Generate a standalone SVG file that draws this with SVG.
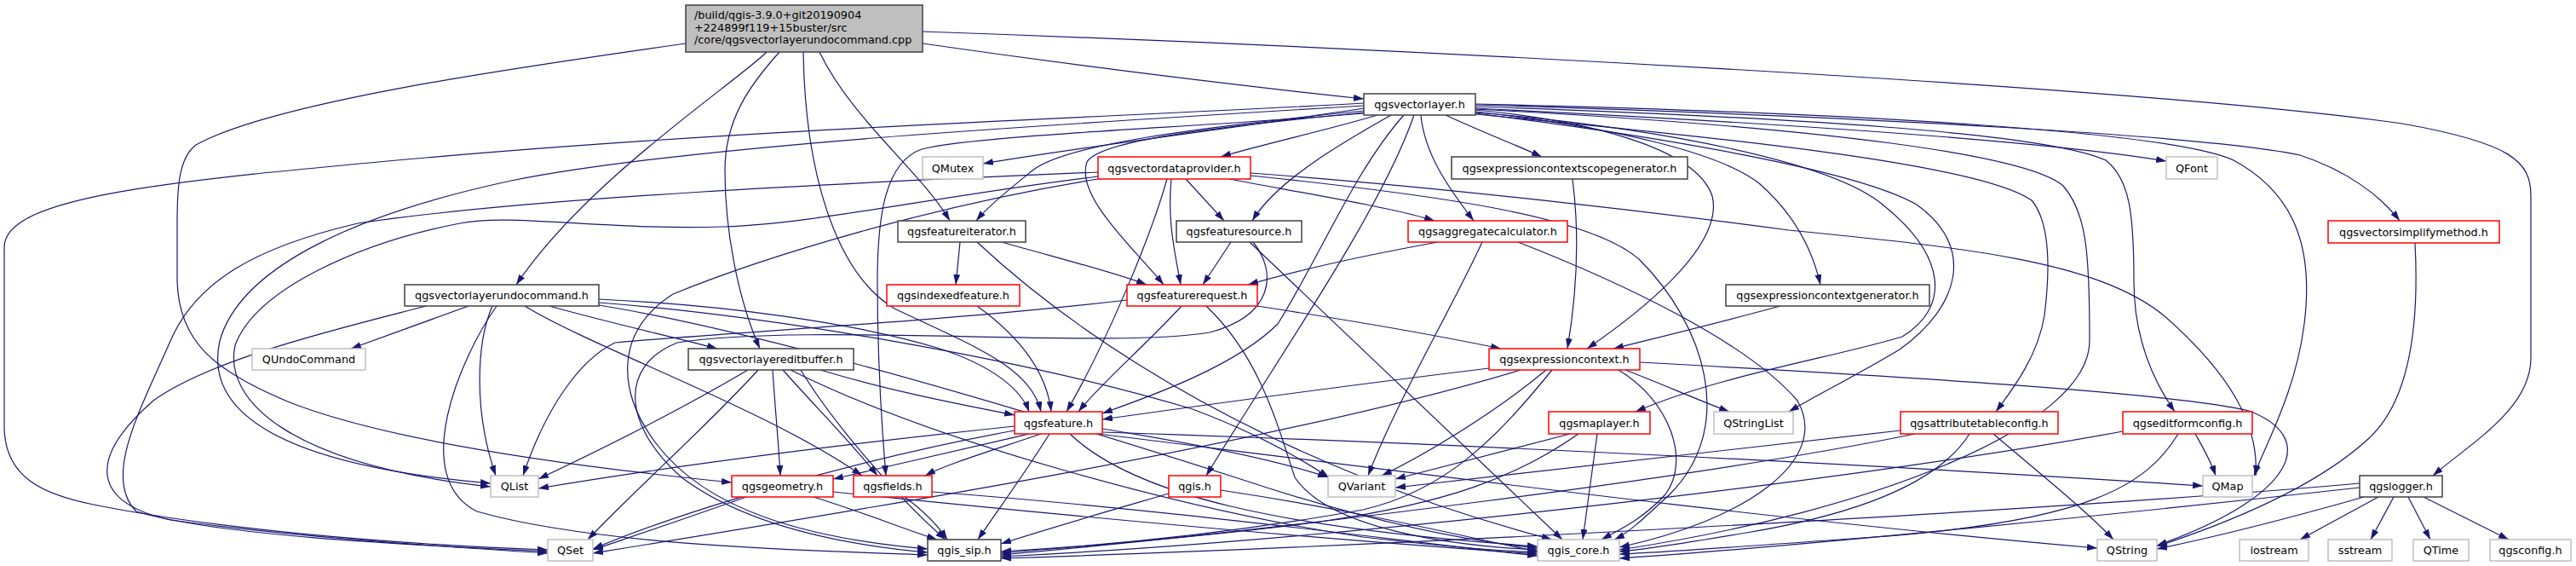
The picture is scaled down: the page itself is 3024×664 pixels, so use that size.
<svg xmlns="http://www.w3.org/2000/svg" width="3024" height="664" viewBox="0 0 3024 664">
<defs>
<marker id="a" markerWidth="13" markerHeight="9" refX="12" refY="4" orient="auto" markerUnits="userSpaceOnUse"><path d="M0,0 L12,4 L0,8 z" fill="#191970"/></marker>
<style>
rect{fill:#fff;stroke-width:1.5}
.k rect{stroke:#404040}
.r rect{stroke:#ff0000}
.g rect{stroke:#bfbfbf}
.root rect{fill:#bfbfbf;stroke:#404040}
text{font-family:"DejaVu Sans","Liberation Sans",sans-serif;font-size:12.8px;fill:#000;text-anchor:middle}
.root text{text-anchor:start}
#edges path{fill:none;stroke:#191970;stroke-width:1.2;marker-end:url(#a)}
</style>
</defs>
<rect x="0" y="0" width="3024" height="664" style="fill:#fff;stroke:none"/>
<g id="edges">
<path d="M900,61 C860,100 690,210 606,334"/>
<path d="M805,51 C600,80 320,120 230,170 C210,185 208,220 208,260 L208,330 C210,400 250,435 340,472 C450,515 650,545 859,566"/>
<path d="M915,61 C880,100 851,140 851,200 C851,270 866,350 892,409"/>
<path d="M943,61 C945,200 980,320 1050,362 C1140,405 1210,430 1222,483"/>
<path d="M962,61 C1000,140 1080,200 1115,259"/>
<path d="M1083,51 C1250,75 1450,100 1601,116"/>
<path d="M1083,37 C1600,55 2500,100 2820,145 C2950,168 2971,190 2971,230 L2971,420 C2971,480 2900,520 2856,558"/>
<path d="M1601,121 C1300,138 900,150 500,185 C200,212 5,230 5,290 L5,500 C5,560 50,580 110,592 C250,620 450,638 643,645"/>
<path d="M1601,124 C1200,148 800,172 600,212 C400,255 280,320 258,400 C240,480 320,545 576,567"/>
<path d="M1601,127 C1450,150 1250,175 1154,192"/>
<path d="M1601,130 C1400,150 1250,170 1212,200 C1185,222 1160,242 1146,259"/>
<path d="M1601,132 C1420,150 1290,165 1276,190 C1262,230 1330,290 1366,334"/>
<path d="M1601,133 C1400,150 1150,158 1082,175 C1040,190 1030,250 1030,330 C1030,420 1035,500 1040,558"/>
<path d="M1617,135 C1560,152 1480,170 1433,184"/>
<path d="M1633,135 C1580,165 1500,210 1470,259"/>
<path d="M1648,135 C1590,200 1550,300 1500,380 C1450,430 1350,465 1294,485"/>
<path d="M1660,135 C1620,250 1500,420 1416,558"/>
<path d="M1668,135 C1672,180 1700,220 1730,259"/>
<path d="M1697,135 C1740,155 1780,170 1810,184"/>
<path d="M1732,129 C1850,140 1990,170 2010,230 C2025,290 1920,370 1863,409"/>
<path d="M1732,131 C1900,150 2020,180 2065,215 C2105,250 2127,290 2137,334"/>
<path d="M1732,132 C1950,150 2150,190 2210,240 C2285,300 2290,360 2233,395 C2150,420 2020,440 1920,483"/>
<path d="M1732,133 C1950,160 2180,200 2250,240 C2320,290 2300,360 2230,410 C2180,440 2130,465 2100,483"/>
<path d="M1732,134 C2000,160 2320,190 2385,235 C2410,265 2405,330 2400,370 C2392,420 2360,460 2343,483"/>
<path d="M1732,125 C2100,138 2400,155 2472,188 C2500,210 2505,250 2505,330 C2505,400 2530,450 2553,483"/>
<path d="M1732,127 C2100,145 2400,165 2543,189"/>
<path d="M1732,123 C2200,137 2600,160 2700,182 C2755,200 2795,230 2817,259"/>
<path d="M1732,122 C2200,133 2550,155 2622,188 C2700,230 2715,300 2705,380 C2695,460 2660,520 2646,558"/>
<path d="M1732,128 C2150,150 2380,182 2422,218 C2450,250 2453,300 2453,400 C2453,500 2200,600 1901,645"/>
<path d="M1289,202 C1000,214 620,232 420,262 C300,290 230,330 200,400 C165,480 120,560 160,600 C260,630 500,640 643,647"/>
<path d="M1289,207 C1100,230 960,262 850,266 C700,270 600,250 540,262 C420,285 300,340 276,405 C262,470 340,545 576,571"/>
<path d="M1289,210 C1100,240 900,300 790,345 C720,390 725,460 770,520 C830,600 950,632 1089,644"/>
<path d="M1370,210 C1350,280 1300,400 1252,483"/>
<path d="M1375,210 C1370,260 1380,300 1386,334"/>
<path d="M1392,210 L1437,259"/>
<path d="M1443,210 C1550,230 1640,245 1684,259"/>
<path d="M1468,203 C1700,220 1950,250 2100,270 C2300,290 2460,305 2540,370 C2620,440 2652,500 2648,558"/>
<path d="M1468,206 C1700,230 1870,255 1925,305 C2000,380 2040,500 1960,580 C1930,608 1912,625 1895,633"/>
<path d="M1127,284 L1122,334"/>
<path d="M1176,284 C1250,305 1310,320 1346,334"/>
<path d="M1147,284 C1250,380 1400,480 1600,560 C1700,600 1780,622 1822,633"/>
<path d="M1147,359 C1190,390 1228,430 1234,483"/>
<path d="M1387,359 C1345,405 1292,450 1266,483"/>
<path d="M1476,359 C1580,375 1680,392 1762,409"/>
<path d="M1416,359 C1480,420 1500,500 1520,560 C1560,620 1700,640 1805,645"/>
<path d="M1323,352 C1100,378 850,390 722,402 C680,422 640,480 614,558"/>
<path d="M1445,284 L1412,334"/>
<path d="M1467,284 L1834,633"/>
<path d="M1471,284 C1500,320 1495,370 1420,390 C1300,410 950,378 795,402 C725,430 732,500 800,560 C880,620 1000,640 1089,648"/>
<path d="M1688,284 C1600,300 1520,318 1465,334"/>
<path d="M1740,284 C1700,370 1640,470 1606,558"/>
<path d="M1782,284 C1900,330 2050,400 2110,470 C2150,540 2050,610 1901,642"/>
<path d="M1846,210 C1855,280 1850,350 1840,409"/>
<path d="M2090,359 C2020,378 1950,395 1894,409"/>
<path d="M1748,432 C1600,450 1450,470 1294,492"/>
<path d="M1785,434 C1500,520 1000,600 696,649"/>
<path d="M1815,434 C1760,480 1680,530 1622,558"/>
<path d="M1822,434 C1760,510 1700,575 1600,598 C1450,625 1300,640 1175,647"/>
<path d="M1908,434 C1950,450 1990,468 2030,483"/>
<path d="M1900,434 C1960,470 1985,540 1955,580 C1930,608 1900,622 1880,633"/>
<path d="M1925,425 C2200,440 2550,460 2640,482 C2720,512 2700,580 2532,640"/>
<path d="M1843,509 C1760,530 1690,548 1638,562"/>
<path d="M1853,509 C1780,560 1700,590 1550,612 C1400,632 1250,642 1175,649"/>
<path d="M1875,509 L1858,633"/>
<path d="M2231,505 C2000,530 1800,555 1638,572"/>
<path d="M2248,509 C2000,560 1500,622 1175,651"/>
<path d="M2312,509 C2280,560 2200,600 2050,625 C1980,637 1930,645 1901,647"/>
<path d="M2340,509 C2400,560 2450,600 2481,633"/>
<path d="M2577,509 C2586,525 2595,540 2601,558"/>
<path d="M2492,506 C2200,560 1600,632 1175,653"/>
<path d="M2557,509 C2520,570 2450,612 2200,630 C2050,641 1950,648 1901,650"/>
<path d="M2835,285 C2840,380 2830,470 2780,515 C2720,570 2620,612 2532,641"/>
<path d="M2770,567 C2400,600 1600,642 1175,655"/>
<path d="M2770,572 C2500,602 2100,642 1901,655"/>
<path d="M2775,583 C2680,610 2600,630 2532,644"/>
<path d="M2792,583 L2700,633"/>
<path d="M2810,583 L2783,633"/>
<path d="M2827,583 L2853,633"/>
<path d="M2845,583 L2945,633"/>
<path d="M550,359 L412,409"/>
<path d="M500,359 C400,385 250,420 180,470 C100,540 110,590 200,610 C350,630 500,640 643,649"/>
<path d="M578,359 C560,400 555,480 582,558"/>
<path d="M583,359 C540,420 480,560 560,600 C700,640 950,646 1089,651"/>
<path d="M616,359 C700,410 900,480 1012,558"/>
<path d="M645,359 C720,380 790,395 842,409"/>
<path d="M703,351 C850,358 1000,378 1100,408 C1170,430 1200,460 1208,483"/>
<path d="M703,355 C900,370 1200,420 1400,480 C1480,510 1530,540 1560,560"/>
<path d="M703,358 C900,390 1200,480 1450,560 C1600,610 1720,635 1805,643"/>
<path d="M963,434 C1050,460 1130,475 1191,487"/>
<path d="M878,434 C800,480 700,530 632,562"/>
<path d="M890,434 C830,500 750,570 690,633"/>
<path d="M907,434 C910,480 914,520 916,558"/>
<path d="M919,434 C960,480 1000,520 1030,558"/>
<path d="M928,434 C1100,520 1400,600 1600,630 C1700,642 1760,646 1805,648"/>
<path d="M940,434 C980,500 1060,590 1110,633"/>
<path d="M1191,500 C1000,520 800,545 632,573"/>
<path d="M1191,505 C1000,540 800,600 696,644"/>
<path d="M1208,509 C1120,530 1030,550 978,562"/>
<path d="M1222,509 C1160,530 1110,545 1086,558"/>
<path d="M1232,509 C1200,560 1170,600 1148,633"/>
<path d="M1256,509 C1330,580 1500,620 1805,641"/>
<path d="M1294,503 C1400,520 1500,540 1559,560"/>
<path d="M1294,507 C1700,520 2200,545 2586,570"/>
<path d="M1290,509 C1700,560 2100,612 2462,643"/>
<path d="M876,583 C800,610 740,630 696,645"/>
<path d="M955,583 C1010,600 1060,620 1100,633"/>
<path d="M978,577 C1300,610 1600,636 1805,650"/>
<path d="M1062,583 C1085,600 1100,615 1112,633"/>
<path d="M1094,577 C1400,600 1650,636 1805,652"/>
<path d="M1372,579 C1300,600 1230,620 1175,638"/>
<path d="M1433,575 C1600,600 1720,630 1805,647"/>
</g>
<g id="n-root" class="root"><rect x="805" y="6" width="278" height="55"/><text x="815" y="22">/build/qgis-3.9.0+git20190904</text><text x="815" y="36.5">+224899f119+15buster/src</text><text x="815" y="51">/core/qgsvectorlayerundocommand.cpp</text></g>
<g id="n-qgsvectorlayer" class="k"><rect x="1601" y="110" width="131" height="25"/><text x="1666.5" y="127">qgsvectorlayer.h</text></g>
<g id="n-QMutex" class="g"><rect x="1083" y="184" width="71" height="26"/><text x="1118.5" y="201.5">QMutex</text></g>
<g id="n-qgsvectordataprovider" class="r"><rect x="1289" y="184" width="179" height="26"/><text x="1378.5" y="201.5">qgsvectordataprovider.h</text></g>
<g id="n-qgsexpressioncontextscopegenerator" class="k"><rect x="1704" y="184" width="277" height="26"/><text x="1842.5" y="201.5">qgsexpressioncontextscopegenerator.h</text></g>
<g id="n-QFont" class="g"><rect x="2543" y="184" width="60" height="26"/><text x="2573" y="201.5">QFont</text></g>
<g id="n-qgsfeatureiterator" class="k"><rect x="1054" y="259" width="150" height="25"/><text x="1129" y="276">qgsfeatureiterator.h</text></g>
<g id="n-qgsfeaturesource" class="k"><rect x="1381" y="259" width="147" height="25"/><text x="1454.5" y="276">qgsfeaturesource.h</text></g>
<g id="n-qgsaggregatecalculator" class="r"><rect x="1653" y="259" width="187" height="25"/><text x="1746.5" y="276">qgsaggregatecalculator.h</text></g>
<g id="n-qgsvectorsimplifymethod" class="r"><rect x="2733" y="259" width="201" height="26"/><text x="2833.5" y="276.5">qgsvectorsimplifymethod.h</text></g>
<g id="n-qgsvectorlayerundocommand" class="k"><rect x="475" y="334" width="228" height="25"/><text x="589" y="351">qgsvectorlayerundocommand.h</text></g>
<g id="n-qgsindexedfeature" class="r"><rect x="1041" y="334" width="156" height="25"/><text x="1119" y="351">qgsindexedfeature.h</text></g>
<g id="n-qgsfeaturerequest" class="r"><rect x="1323" y="334" width="153" height="25"/><text x="1399.5" y="351">qgsfeaturerequest.h</text></g>
<g id="n-qgsexpressioncontextgenerator" class="k"><rect x="2026" y="334" width="239" height="25"/><text x="2145.5" y="351">qgsexpressioncontextgenerator.h</text></g>
<g id="n-QUndoCommand" class="g"><rect x="296" y="409" width="133" height="25"/><text x="362.5" y="426">QUndoCommand</text></g>
<g id="n-qgsvectorlayereditbuffer" class="k"><rect x="808" y="409" width="194" height="25"/><text x="905" y="426">qgsvectorlayereditbuffer.h</text></g>
<g id="n-qgsexpressioncontext" class="r"><rect x="1748" y="409" width="177" height="25"/><text x="1836.5" y="426">qgsexpressioncontext.h</text></g>
<g id="n-qgsfeature" class="r"><rect x="1191" y="483" width="103" height="26"/><text x="1242.5" y="500.5">qgsfeature.h</text></g>
<g id="n-qgsmaplayer" class="r"><rect x="1818" y="483" width="119" height="26"/><text x="1877.5" y="500.5">qgsmaplayer.h</text></g>
<g id="n-QStringList" class="g"><rect x="2012" y="483" width="93" height="26"/><text x="2058.5" y="500.5">QStringList</text></g>
<g id="n-qgsattributetableconfig" class="r"><rect x="2231" y="483" width="185" height="26"/><text x="2323.5" y="500.5">qgsattributetableconfig.h</text></g>
<g id="n-qgseditformconfig" class="r"><rect x="2492" y="483" width="152" height="26"/><text x="2568" y="500.5">qgseditformconfig.h</text></g>
<g id="n-QList" class="g"><rect x="576" y="558" width="56" height="25"/><text x="604" y="575">QList</text></g>
<g id="n-qgsgeometry" class="r"><rect x="859" y="558" width="119" height="25"/><text x="918.5" y="575">qgsgeometry.h</text></g>
<g id="n-qgsfields" class="r"><rect x="1002" y="558" width="92" height="25"/><text x="1048" y="575">qgsfields.h</text></g>
<g id="n-qgis" class="r"><rect x="1372" y="558" width="61" height="25"/><text x="1402.5" y="575">qgis.h</text></g>
<g id="n-QVariant" class="g"><rect x="1559" y="558" width="79" height="25"/><text x="1598.5" y="575">QVariant</text></g>
<g id="n-QMap" class="g"><rect x="2586" y="558" width="58" height="25"/><text x="2615" y="575">QMap</text></g>
<g id="n-qgslogger" class="k"><rect x="2770" y="558" width="97" height="25"/><text x="2818.5" y="575">qgslogger.h</text></g>
<g id="n-QSet" class="g"><rect x="643" y="633" width="53" height="25"/><text x="669.5" y="650">QSet</text></g>
<g id="n-qgis_sip" class="k"><rect x="1089" y="633" width="86" height="25"/><text x="1132" y="650">qgis_sip.h</text></g>
<g id="n-qgis_core" class="g"><rect x="1805" y="633" width="96" height="25"/><text x="1853" y="650">qgis_core.h</text></g>
<g id="n-QString" class="g"><rect x="2462" y="633" width="70" height="25"/><text x="2497" y="650">QString</text></g>
<g id="n-iostream" class="g"><rect x="2629" y="633" width="81" height="25"/><text x="2669.5" y="650">iostream</text></g>
<g id="n-sstream" class="g"><rect x="2733" y="633" width="75" height="25"/><text x="2770.5" y="650">sstream</text></g>
<g id="n-QTime" class="g"><rect x="2833" y="633" width="65" height="25"/><text x="2865.5" y="650">QTime</text></g>
<g id="n-qgsconfig" class="g"><rect x="2923" y="633" width="95" height="25"/><text x="2970.5" y="650">qgsconfig.h</text></g>
</svg>
